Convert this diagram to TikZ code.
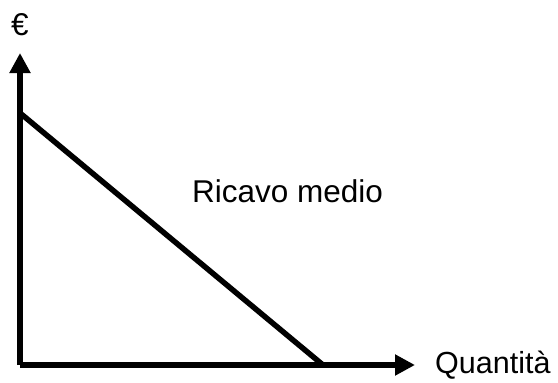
\documentclass[tikz,border=0pt]{standalone}
\usepackage{fontspec}
\setmainfont{Liberation Sans}
\usetikzlibrary{arrows.meta, positioning}

\begin{document}
\begin{tikzpicture}[x=1pt, y=-1pt]
\useasboundingbox (0,0) rectangle (558,383);
{\fontsize{31.5}{37}\selectfont
\coordinate (origin) at (20,365);
\coordinate (ytop) at (20,53);
\coordinate (xend) at (415,365);
\coordinate (ricavostart) at (20,113);
\coordinate (ricavoend) at (323,365);

\draw [line width=6pt, -{Triangle[length=20pt, width=20pt]}] (origin) -- (ytop);
\draw [line width=6pt, -{Triangle[length=20pt, width=20pt]}] (origin) -- (xend);
\draw [line width=5.5pt] (ricavostart) -- (ricavoend);

\node [anchor=base, inner sep=0pt] (euro) at (20,35) {€};
\node [anchor=base west, inner sep=0pt, font=\fontsize{30.5}{36}\selectfont] (quantita) at (435,373) {Quantità};
\node [anchor=base west, inner sep=0pt] (ricavo) at (192,202) {Ricavo medio};
}
\end{tikzpicture}
\end{document}
